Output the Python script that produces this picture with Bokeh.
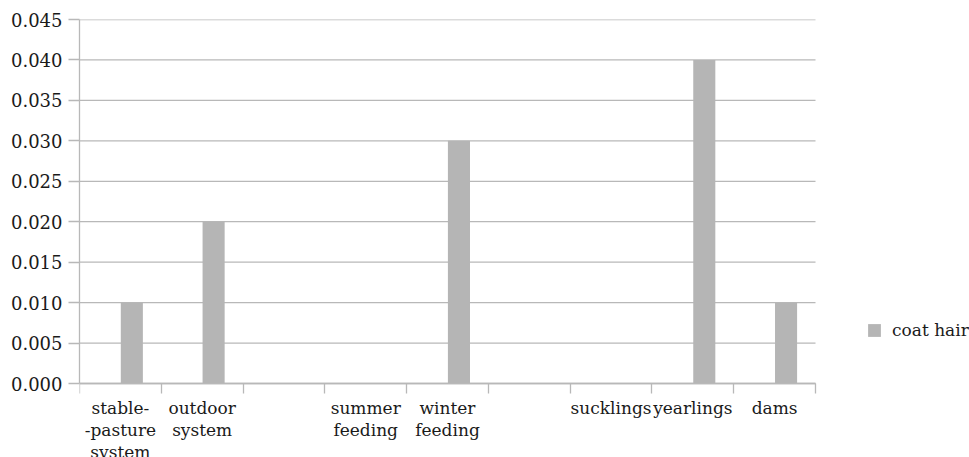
from bokeh.plotting import figure
from bokeh.models import (Range1d, FixedTicker, ColumnDataSource,
                          Legend, LegendItem, NumeralTickFormatter)
from bokeh.embed import file_html
from bokeh.resources import INLINE

# ---- data ----
categories = ["stable-\n-pasture\nsystem", "outdoor\nsystem", "", "summer\nfeeding",
              "winter\nfeeding", "", "sucklings", "yearlings", "dams"]
coat_hair = [0.010, 0.020, 0.0, 0.0, 0.030, 0.0, 0.0, 0.040, 0.010]
y_ticks = [0.000, 0.005, 0.010, 0.015, 0.020, 0.025, 0.030, 0.035, 0.040, 0.045]
series_name = "coat hair"

FONT = "DejaVu Serif"
TXT = "#1a1a1a"
GRAY = "#b5b5b5"
LINE = "#b8b8b8"

# ---- layout (pixels) ----
W, H = 969, 457
LEFT, TOP = 79, 19
PLOT_W, PLOT_H = 736, 364          # width/height of the category/value area
n = len(categories)
ymax = y_ticks[-1]

# frame covers everything right of the y axis and below the top margin;
# ranges are extended so that the value area keeps its size
x_end = n * (W - LEFT) / PLOT_W
y_start = -ymax * (H - TOP - PLOT_H) / PLOT_H

centers = [i + 0.5 for i in range(n)]
bar_x = [c + 0.14 for c in centers]

p = figure(width=W, height=H, output_backend="svg", toolbar_location=None,
           x_range=Range1d(0, x_end), y_range=Range1d(y_start, ymax),
           min_border_left=LEFT, min_border_right=0,
           min_border_top=TOP, min_border_bottom=0)
p.outline_line_color = None
p.background_fill_color = "white"
p.border_fill_color = "white"
p.xgrid.grid_line_color = None
p.ygrid.grid_line_color = None

# horizontal gridlines across the category area
p.segment(x0=[0] * len(y_ticks), x1=[n] * len(y_ticks), y0=y_ticks, y1=y_ticks,
          line_color=LINE, line_width=1.3)

src = ColumnDataSource(dict(x=bar_x, top=coat_hair))
r = p.vbar(x="x", top="top", width=0.27, source=src, fill_color=GRAY, line_color=None)

# y axis
ya = p.yaxis[0]
ya.bounds = (0, ymax)
ya.ticker = FixedTicker(ticks=y_ticks)
ya.formatter = NumeralTickFormatter(format="0.000")
ya.major_tick_out = 11
ya.major_tick_in = 0
ya.minor_tick_out = 0
ya.minor_tick_in = 0
ya.major_tick_line_color = LINE
ya.major_tick_line_width = 1.3
ya.axis_line_color = LINE
ya.axis_line_width = 1.3
ya.major_label_text_font = FONT
ya.major_label_text_font_size = "18px"
ya.major_label_text_color = TXT
ya.major_label_standoff = 6

# x axis at value 0: labels at centers, tick marks at boundaries (minor ticks)
xa = p.xaxis[0]
xa.fixed_location = 0
xa.bounds = (0, n)
xa.ticker = FixedTicker(ticks=centers, minor_ticks=list(range(n + 1)))
xa.major_label_overrides = {c: lab for c, lab in zip(centers, categories)}
xa.major_tick_out = 0
xa.major_tick_in = 0
xa.minor_tick_out = 10
xa.minor_tick_in = 0
xa.minor_tick_line_color = LINE
xa.minor_tick_line_width = 1.3
xa.axis_line_color = LINE
xa.axis_line_width = 1.3
xa.major_label_text_font = FONT
xa.major_label_text_font_size = "17px"
xa.major_label_text_color = TXT
xa.major_label_text_line_height = 1.1
xa.major_label_standoff = 4

legend = Legend(items=[LegendItem(label=series_name, renderers=[r])],
                location=(787, 117), padding=0, margin=0, border_line_color=None,
                background_fill_alpha=0, glyph_width=16, glyph_height=16,
                label_standoff=10, label_text_font=FONT, label_text_font_size="17px",
                label_text_color=TXT)
p.add_layout(legend, "center")

open("out.html", "w").write(file_html(p, INLINE))
